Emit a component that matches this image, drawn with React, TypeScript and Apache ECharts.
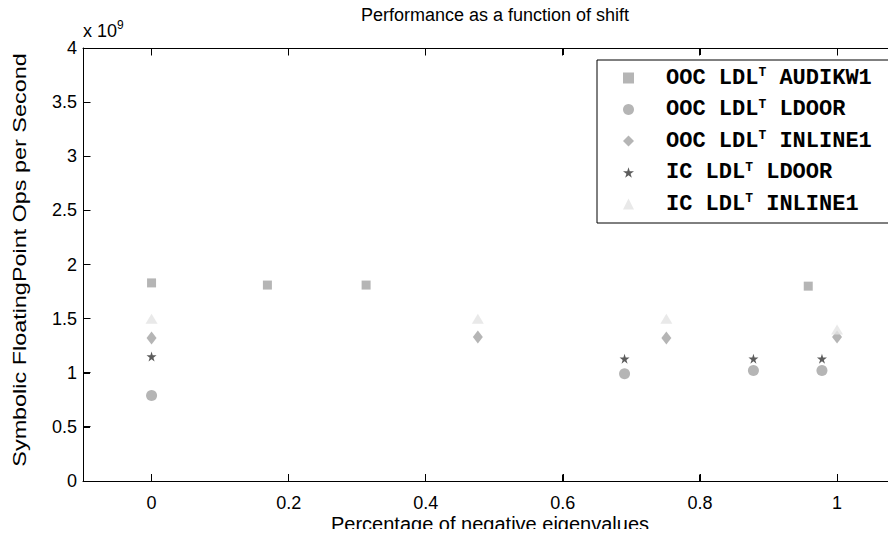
import React, { useEffect, useRef } from "react";
import * as echarts from "echarts";

const seriesNames = [
  "OOC LDLT AUDIKW1",
  "OOC LDLT LDOOR",
  "OOC LDLT INLINE1",
  "IC LDLT LDOOR",
  "IC LDLT INLINE1",
];

// values in units of 1e9 flops/s
const oocAudikw1: [number, number][] = [
  [0, 1.83],
  [0.169, 1.81],
  [0.313, 1.81],
  [0.958, 1.8],
];
const oocLdoor: [number, number][] = [
  [0, 0.79],
  [0.69, 0.99],
  [0.878, 1.02],
  [0.978, 1.02],
];
const oocInline1: [number, number][] = [
  [0, 1.32],
  [0.476, 1.33],
  [0.751, 1.32],
  [1.0, 1.33],
];
const icLdoor: [number, number][] = [
  [0, 1.15],
  [0.69, 1.13],
  [0.878, 1.13],
  [0.978, 1.13],
];
const icInline1: [number, number][] = [
  [0, 1.5],
  [0.476, 1.5],
  [0.751, 1.5],
  [1.0, 1.4],
];

const xTicks = [0, 0.2, 0.4, 0.6, 0.8, 1];
const yTicks = [0, 0.5, 1, 1.5, 2, 2.5, 3, 3.5, 4];
const xRange = [-0.1, 1.086];
const yRange = [0, 4];

const STAR =
  "path://M50,0 L61,35 L98,35 L68,57 L79,91 L50,70 L21,91 L32,57 L2,35 L39,35 Z";

export default function App() {
  const ref = useRef<HTMLDivElement>(null);
  useEffect(() => {
    if (!ref.current) return;
    const chart = echarts.init(ref.current, undefined, { renderer: "svg" });
    const font = "Liberation Sans, Arial, sans-serif";
    const mono = "Liberation Mono, DejaVu Sans Mono, monospace";
    const mk = (
      name: string,
      data: [number, number][],
      symbol: string,
      size: number | number[],
      color: string
    ) => ({
      name,
      type: "scatter",
      data,
      symbol,
      symbolSize: size,
      itemStyle: { color },
      z: 3,
    });
    const lb = () => ({ show: true, onZero: false, lineStyle: { color: "#000", width: 1 } });
    chart.setOption({
      animation: false,
      backgroundColor: "#fff",
      title: {
        text: "Performance as a function of shift",
        left: 490,
        textAlign: "center",
        top: 1,
        textStyle: {
          fontFamily: font,
          fontSize: 18,
          fontWeight: "normal",
          color: "#000",
        },
      },
      legend: {
        orient: "vertical",
        left: 597,
        top: 60,
        backgroundColor: "#fff",
        borderColor: "#000",
        borderWidth: 1,
        borderRadius: 0,
        padding: [6, 26, 7, 26],
        itemGap: 7.5,
        itemWidth: 11,
        itemHeight: 11,
        data: seriesNames,
        formatter: (n: string) => n.replace("LDLT", "LDL{sup|T}"),
        textStyle: {
          fontFamily: mono,
          fontSize: 22,
          lineHeight: 22,
          fontWeight: "bold",
          color: "#000",
          padding: [0, 0, 0, 27],
          rich: {
            sup: {
              fontFamily: mono,
              fontSize: 13,
              lineHeight: 22,
              fontWeight: "bold",
              padding: [0, 0, 11, 0],
            },
          },
        },
      },
      grid: {
        left: 83,
        top: 48,
        right: 0,
        bottom: 56,
        containLabel: false,
        show: false,
      },
      xAxis: [
        {
          type: "value",
          min: xRange[0],
          max: xRange[1],
          position: "bottom",
          axisLine: lb(),
          axisTick: { show: true, inside: true, length: 7, customValues: xTicks },
          axisLabel: {
            customValues: xTicks,
            margin: 13,
            fontFamily: font,
            fontSize: 18,
            color: "#000",
          },
          splitLine: { show: false },
        },
        {
          type: "value",
          min: xRange[0],
          max: xRange[1],
          position: "top",
          axisLine: lb(),
          axisTick: { show: true, inside: true, length: 7, customValues: xTicks },
          axisLabel: { show: false },
          splitLine: { show: false },
        },
      ],
      yAxis: [
        {
          type: "value",
          min: yRange[0],
          max: yRange[1],
          interval: 0.5,
          position: "left",
          axisLine: lb(),
          axisTick: { show: true, inside: true, length: 7 },
          axisLabel: {
            margin: 6,
            fontFamily: font,
            fontSize: 18,
            color: "#000",
          },
          splitLine: { show: false },
        },
      ],
      series: [
        mk(seriesNames[0], oocAudikw1, "rect", 9, "#a3a3a3"),
        mk(seriesNames[1], oocLdoor, "circle", 11, "#a3a3a3"),
        mk(seriesNames[2], oocInline1, "diamond", [10, 13], "#a3a3a3"),
        mk(seriesNames[3], icLdoor, STAR, 10, "#333333"),
        mk(seriesNames[4], icInline1, "triangle", [12, 10], "#e3e3e3"),
      ],
    });

    // axis frame and tick marks, positioned through the chart's own scales
    const px = (v: number) => chart.convertToPixel({ xAxisIndex: 0 }, v) as number;
    const py = (v: number) => chart.convertToPixel({ yAxisIndex: 0 }, v) as number;
    const crisp = (v: number) => Math.round(v - 0.5) + 0.5;
    const X0 = crisp(px(xRange[0]));
    const X1 = px(xRange[1]) + 2;
    const Y0 = crisp(py(yRange[0]));
    const Y1 = crisp(py(yRange[1]));
    const ln = (x1: number, y1: number, x2: number, y2: number) => ({
      type: "line",
      silent: true,
      z: 5,
      shape: { x1, y1, x2, y2 },
      style: { stroke: "#000", lineWidth: 1 },
    });
    const frame: any[] = [
      ln(X0, Y0, X1, Y0),
      ln(X0, Y1, X1, Y1),
      ln(X0, Y0, X0, Y1),
    ];
    xTicks.forEach((t) => {
      const x = crisp(px(t));
      frame.push(ln(x, Y0, x, Y0 - 7));
      frame.push(ln(x, Y1, x, Y1 + 7));
    });
    yTicks.forEach((t) => {
      const y = crisp(py(t));
      frame.push(ln(X0, y, X0 + 7, y));
    });

    chart.setOption({
      graphic: [
        {
          type: "text",
          left: 83,
          top: 19,
          z: 10,
          style: {
            text: "x 10{sup|9}",
            fontFamily: font,
            fontSize: 18,
            fill: "#000",
            rich: {
              sup: {
                fontFamily: font,
                fontSize: 12,
                padding: [0, 0, 12, 0],
              },
            },
          },
        },
        {
          type: "text",
          x: 20,
          y: 260,
          rotation: Math.PI / 2,
          scaleX: 1.3,
          z: 10,
          style: {
            text: "Symbolic FloatingPoint Ops per Second",
            fontFamily: font,
            fontSize: 18,
            fill: "#000",
            align: "center",
            verticalAlign: "middle",
          },
        },
        {
          type: "text",
          x: 490,
          y: 524,
          z: 10,
          style: {
            text: "Percentage of negative eigenvalues",
            fontFamily: font,
            fontSize: 20,
            fill: "#000",
            align: "center",
            verticalAlign: "middle",
          },
        },
        ...frame,
      ],
    });
    return () => chart.dispose();
  }, []);
  return <div ref={ref} style={{ width: 896, height: 537, margin: -8 }} />;
}
